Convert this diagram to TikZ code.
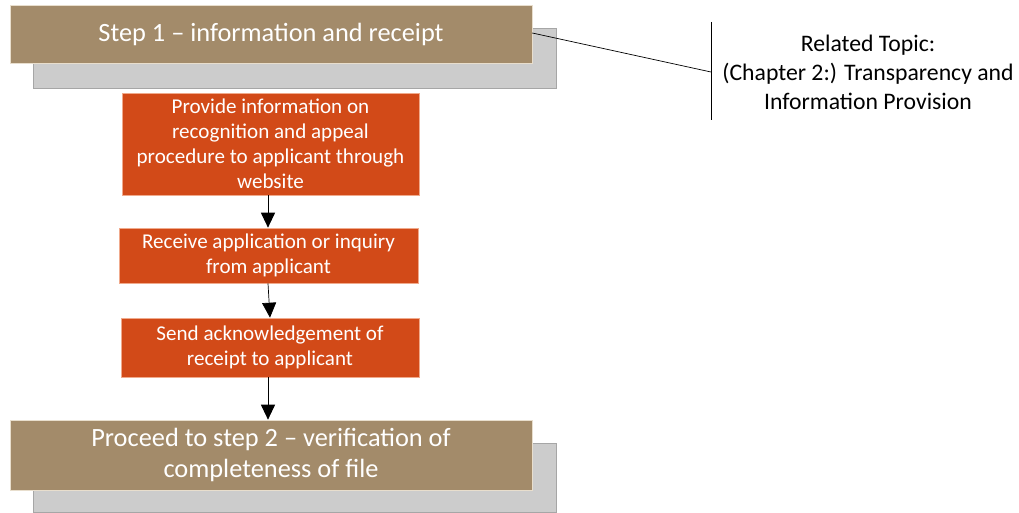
\documentclass[tikz,border=0pt]{standalone}
\usepackage{fontspec}
\setmainfont{Carlito}
\usetikzlibrary{arrows.meta, positioning}

\definecolor{stepbrown}{RGB}{163,139,106}
\definecolor{stepedge}{RGB}{232,222,205}
\definecolor{shadowgray}{RGB}{204,204,204}
\definecolor{shadowedge}{RGB}{166,166,166}
\definecolor{taskorange}{RGB}{210,74,24}
\definecolor{taskedge}{RGB}{240,170,140}

\tikzset{
  stepbox/.style={draw=stepedge, fill=stepbrown, text=white, align=center,
    minimum width=10.44cm, inner sep=0pt},
  shadowbox/.style={draw=shadowedge, fill=shadowgray, minimum width=10.46cm, inner sep=0pt},
  taskbox/.style={draw=taskedge, fill=taskorange, text=white, align=center,
    inner sep=0pt, font=\fontsize{12}{14.2}\selectfont},
  flow/.style={-{Triangle[width=8pt, length=8.5pt]}, thin}
}

\begin{document}
\begin{tikzpicture}[x=0.02cm, y=-0.02cm]
  \useasboundingbox (0, 0) rectangle (1019, 513);

  % step 1 header
  \node[shadowbox, minimum height=1.2cm] (s1sh) at (294.5, 58) {};
  \node[stepbox, minimum height=1.16cm, font=\fontsize{15}{18}\selectfont] (s1) at (271, 34)
    {Step 1 -- information and receipt};

  % tasks
  \node[taskbox, minimum width=5.94cm, minimum height=2.04cm] (t1) at (270.5, 144)
    {Provide information on\\recognition and appeal\\procedure to applicant through\\website};
  \node[taskbox, minimum width=5.98cm, minimum height=1.1cm] (t2) at (268.5, 255.5)
    {Receive application or inquiry\\from applicant};
  \node[taskbox, minimum width=5.96cm, minimum height=1.18cm] (t3) at (270, 347.5)
    {Send acknowledgement of\\receipt to applicant};

  % step 2 footer
  \node[shadowbox, minimum height=1.38cm] (s2sh) at (294.5, 477.5) {};
  \node[stepbox, minimum height=1.4cm, font=\fontsize{15}{18}\selectfont] (s2) at (271, 455)
    {Proceed to step 2 -- verification of\\completeness of file};

  % related topic
  \coordinate (rt top) at (711, 22);
  \coordinate (rt mid) at (711, 72);
  \coordinate (rt bot) at (711, 120);
  \node[align=center, font=\fontsize{13.5}{16.5}\selectfont] (rt) at (868, 72)
    {Related Topic:\\(Chapter 2:) Transparency and\\Information Provision};
  \draw (rt top) -- (rt bot);
  \draw (s1.east |- 0, 33) -- (rt mid);

  \draw[flow] (t1.south -| 268, 0) -- (t2.north -| 268, 0);
  \draw[flow] (t2.south -| 268, 0) -- (t3.north -| 270, 0);
  \draw[flow] (t3.south -| 268, 0) -- (s2.north -| 268, 0);
\end{tikzpicture}
\end{document}
